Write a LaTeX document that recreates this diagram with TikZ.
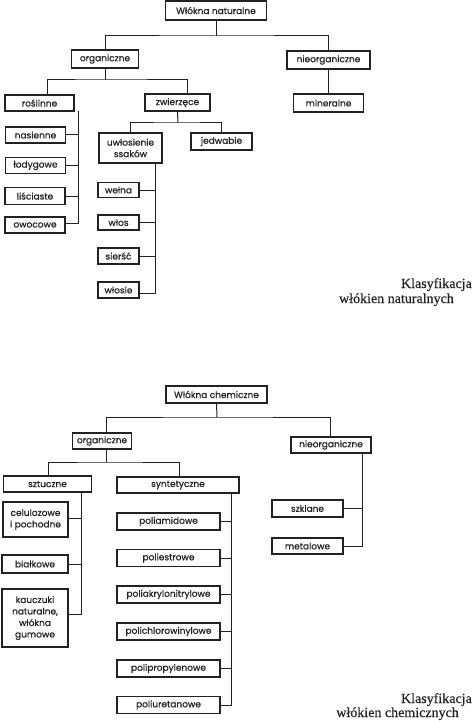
\documentclass[tikz,border=0pt]{standalone}
\usepackage{fontspec}
\newfontfamily\boxfont{Poppins}[FakeBold=0.6]
\newfontfamily\capfont{Liberation Serif}[FakeBold=0.4]
\definecolor{ink}{HTML}{222222}
\begin{document}
\begin{tikzpicture}[x=1pt,y=-1pt,
  bx/.style={draw=ink, line width=1.3pt, inner sep=0pt, align=center, text=ink,
    font=\boxfont\fontsize{9}{11.5}\selectfont},
  ln/.style={draw=ink, line width=1pt},
  captxt/.style={anchor=base east, inner sep=0pt, text=ink, font=\capfont\fontsize{14}{16}\selectfont}]
\useasboundingbox[fill=white] (0,0) rectangle (474,722);
% ---------- natural fibres ----------
\node[bx, minimum width=101pt, minimum height=19pt] (wn) at (216,10.5) {Włókna naturalne};
\node[bx, minimum width=67pt, minimum height=18pt] (org1) at (105,59) {organiczne};
\node[bx, minimum width=83pt, minimum height=18pt] (nie1) at (328.5,60) {nieorganiczne};
\node[bx, minimum width=70pt, minimum height=18pt] (min) at (328.5,103) {mineralne};
\node[bx, minimum width=69pt, minimum height=16pt] (rosl) at (39.5,103) {roślinne};
\node[bx, minimum width=65pt, minimum height=17pt] (zwie) at (177.5,102.5) {zwierzęce};
\node[bx, minimum width=60pt, minimum height=16pt] (nas) at (35.5,135) {nasienne};
\node[bx, minimum width=60pt, minimum height=16pt] (lod) at (35.5,165.5) {łodygowe};
\node[bx, minimum width=60pt, minimum height=17pt] (lis) at (35,196) {liściaste};
\node[bx, minimum width=60pt, minimum height=16pt] (owo) at (35,225) {owocowe};
\node[bx, minimum width=63pt, minimum height=30pt] (uwl) at (130.5,148) {uwłosienie\\ssaków};
\node[bx, minimum width=61pt, minimum height=17pt] (jed) at (221.5,141.5) {jedwabie};
\node[bx, minimum width=41pt, minimum height=15pt] (wel) at (118.5,190) {wełna};
\node[bx, minimum width=41pt, minimum height=15pt] (wlos) at (118.5,222.5) {włos};
\node[bx, minimum width=41pt, minimum height=16pt] (sier) at (118.5,256) {sierść};
\node[bx, minimum width=41pt, minimum height=16pt] (wlosie) at (118.5,290) {włosie};
\coordinate (j1) at (216,36);
\coordinate (j2) at (105,80);
\coordinate (j3) at (178,123);
\coordinate (rv) at (78,111);
\coordinate (uv) at (155,163);
\draw[ln] (wn.south) -- (j1);
\draw[ln] (org1.north) |- (j1) -| (nie1.north);
\draw[ln] (nie1.south) -- (min.north);
\draw[ln] (org1.south) -- (j2);
\draw[ln] ([xshift=7.5pt]rosl.north) |- (j2) -| ([xshift=9.5pt]zwie.north);
\draw[ln] (rv) |- ([yshift=2pt]owo.east);
\draw[ln] (nas.east) -- (nas.east -| rv);
\draw[ln] (lod.east) -- (lod.east -| rv);
\draw[ln] (lis.east) -- (lis.east -| rv);
\draw[ln] (zwie.south) -- (j3);
\draw[ln] (uwl.north) |- (j3) -| (jed.north);
\draw[ln] (uv) |- ([yshift=-3pt]wlosie.east);
\draw[ln] (wel.east) -- (wel.east -| uv);
\draw[ln] (wlos.east) -- (wlos.east -| uv);
\draw[ln] (sier.east) -- (sier.east -| uv);
\node[captxt] (c1a) at (472,288) {Klasyfikacja};
\node[captxt] (c1b) at (454,303) {włókien naturalnych};
% ---------- chemical fibres ----------
\node[bx, minimum width=101pt, minimum height=17pt] (wc) at (216.5,394.5) {Włókna chemiczne};
\node[bx, minimum width=59pt, minimum height=16pt] (org2) at (102,441) {organiczne};
\node[bx, minimum width=80pt, minimum height=16pt] (nie2) at (331,445) {nieorganiczne};
\node[bx, minimum width=88pt, minimum height=16pt] (szt) at (47.5,484) {sztuczne};
\node[bx, minimum width=122pt, minimum height=16pt] (syn) at (178,485) {syntetyczne};
\node[bx, minimum width=65pt, minimum height=35pt] (cel) at (35.5,519.5) {celulozowe\\i pochodne};
\node[bx, minimum width=66pt, minimum height=18pt] (bial) at (35,564) {białkowe};
\node[bx, minimum width=66pt, minimum height=58pt] (kau) at (35,618) {kauczuki\\naturalne,\\włókna\\gumowe};
\node[bx, minimum width=103pt, minimum height=17pt] (pam) at (168.5,521.5) {poliamidowe};
\node[bx, minimum width=103pt, minimum height=17pt] (pest) at (168.5,558) {poliestrowe};
\node[bx, minimum width=103pt, minimum height=17pt] (pakr) at (168.5,594.5) {poliakrylonitrylowe};
\node[bx, minimum width=103pt, minimum height=17pt] (pchl) at (168.5,631.5) {polichlorowinylowe};
\node[bx, minimum width=103pt, minimum height=17pt] (ppro) at (168.5,668.5) {polipropylenowe};
\node[bx, minimum width=103pt, minimum height=17pt] (pure) at (168.5,705) {poliuretanowe};
\node[bx, minimum width=71pt, minimum height=17pt] (szk) at (307.5,508.5) {szklane};
\node[bx, minimum width=71pt, minimum height=16pt] (met) at (307.5,546) {metalowe};
\coordinate (j4) at (217,417);
\coordinate (j5) at (106,462);
\coordinate (sv) at (81,492);
\coordinate (syv) at (231,493);
\coordinate (nv) at (362,453);
\draw[ln] (wc.south) -- (j4);
\draw[ln] ([xshift=4pt]org2.north) |- (j4) -| ([xshift=-1pt]nie2.north);
\draw[ln] ([xshift=4pt]org2.south) -- (j5);
\draw[ln] ([xshift=0.5pt]szt.north) |- (j5) -| ([xshift=1pt]syn.north);
\draw[ln] (sv) |- ([yshift=4pt]kau.east);
\draw[ln] ([yshift=1.5pt]cel.east) -- ([yshift=1.5pt]cel.east -| sv);
\draw[ln] (bial.east) -- (bial.east -| sv);
\draw[ln] (syv) |- (pure.east);
\draw[ln] (pam.east) -- (pam.east -| syv);
\draw[ln] (pest.east) -- (pest.east -| syv);
\draw[ln] (pakr.east) -- (pakr.east -| syv);
\draw[ln] (pchl.east) -- (pchl.east -| syv);
\draw[ln] (ppro.east) -- (ppro.east -| syv);
\draw[ln] (nv) |- (met.east);
\draw[ln] (szk.east) -- (szk.east -| nv);
\node[captxt] (c2a) at (472,703) {Klasyfikacja};
\node[captxt] (c2b) at (459,717) {włókien chemicznych};
\end{tikzpicture}
\end{document}
